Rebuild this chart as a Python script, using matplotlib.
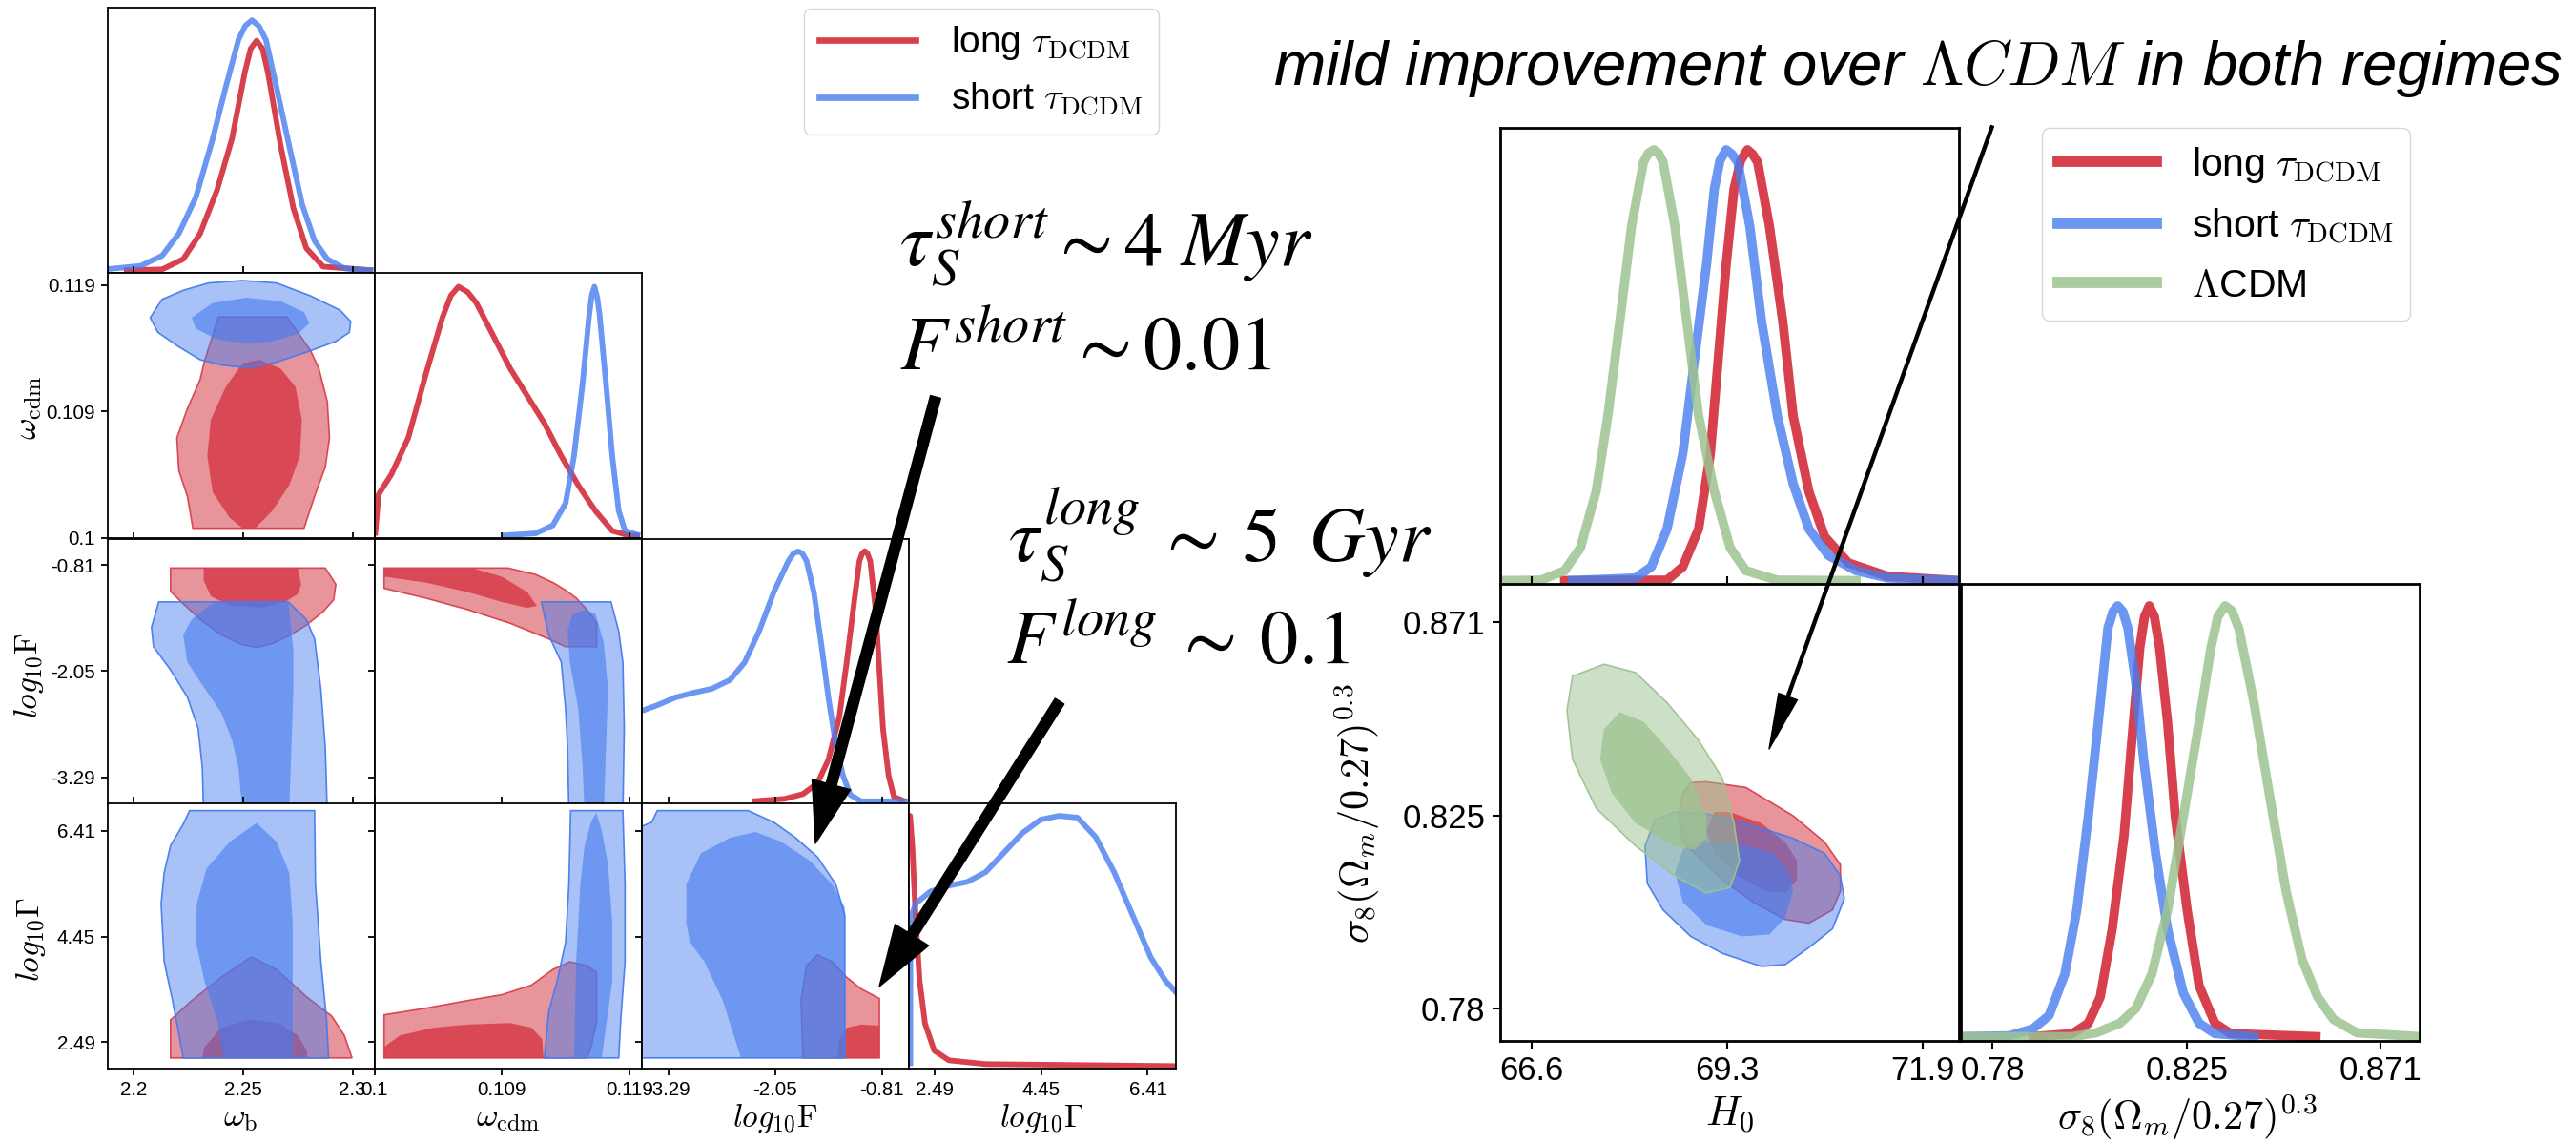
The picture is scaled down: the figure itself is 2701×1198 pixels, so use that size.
import numpy as np
import matplotlib
matplotlib.use("Agg")
import matplotlib.pyplot as plt
from matplotlib.colors import to_rgba
from matplotlib.lines import Line2D
from matplotlib import font_manager as fm

# ============================ DATA ============================
# --- left triangle: parameter ranges, ticks, labels
wb_lim = (2.188, 2.31)
wb_ticks = [2.2, 2.25, 2.3]
wb_labels = ["2.2", "2.25", "2.3"]
wcdm_lim = (0.1, 0.1199)
wcdm_ticks = [0.1, 0.1095, 0.119]
wcdm_labels = ["0.1", "0.109", "0.119"]
logF_lim = (-3.6, -0.5)
logF_ticks = [-3.29, -2.05, -0.81]
logF_labels = ["-3.29", "-2.05", "-0.81"]
logG_lim = (2.0, 6.92)
logG_ticks = [2.49, 4.45, 6.41]
logG_labels = ["2.49", "4.45", "6.41"]

# --- 1D posteriors (left triangle)
wb_red_x = [2.1956, 2.2131, 2.2227, 2.2304, 2.2382, 2.245, 2.2508, 2.2535, 2.2562, 2.2589, 2.2614, 2.2672, 2.273, 2.2789, 2.2866, 2.3095]
wb_red_y = [0.0, 0.004, 0.045, 0.147, 0.322, 0.527, 0.79, 0.886, 0.918, 0.886, 0.79, 0.498, 0.249, 0.089, 0.015, 0.0]
wb_blue_x = [2.188, 2.2033, 2.2131, 2.2207, 2.2285, 2.2362, 2.2421, 2.2479, 2.251, 2.2541, 2.2573, 2.2605, 2.2653, 2.2711, 2.277, 2.2827, 2.2885, 2.2963, 2.3095]
wb_blue_y = [0.005, 0.018, 0.059, 0.147, 0.293, 0.527, 0.732, 0.921, 0.977, 1.0, 0.976, 0.921, 0.732, 0.498, 0.264, 0.118, 0.045, 0.008, 0.0]

wcdm_red_x = [0.10006, 0.10032, 0.10127, 0.10253, 0.1038, 0.10507, 0.1057, 0.10627, 0.10696, 0.1076, 0.10887, 0.11013, 0.1114, 0.11267, 0.11393, 0.1152, 0.11647, 0.11773, 0.119, 0.1198]
wcdm_red_y = [0.0, 0.165, 0.245, 0.391, 0.638, 0.871, 0.959, 0.995, 0.973, 0.93, 0.798, 0.667, 0.558, 0.449, 0.318, 0.201, 0.099, 0.019, 0.0, 0.0]
wcdm_blue_x = [0.1095, 0.11203, 0.1133, 0.11425, 0.11488, 0.11552, 0.11599, 0.1162, 0.1164, 0.1166, 0.11678, 0.11726, 0.11773, 0.11821, 0.11868, 0.1198]
wcdm_blue_y = [0.0, 0.009, 0.041, 0.129, 0.318, 0.609, 0.871, 0.96, 0.995, 0.955, 0.886, 0.609, 0.318, 0.099, 0.019, 0.0]

logF_red_x = [-2.317, -1.936, -1.724, -1.555, -1.429, -1.302, -1.217, -1.133, -1.069, -1.038, -1.006, -0.975, -0.943, -0.879, -0.837, -0.795, -0.731, -0.668, -0.541]
logF_red_y = [0.0, 0.01, 0.029, 0.073, 0.166, 0.337, 0.555, 0.789, 0.96, 0.99, 1.0, 0.99, 0.96, 0.758, 0.524, 0.29, 0.104, 0.018, 0.0]
logF_blue_x = [-3.6, -3.416, -3.205, -2.994, -2.782, -2.571, -2.402, -2.233, -2.063, -1.894, -1.836, -1.779, -1.73, -1.682, -1.598, -1.513, -1.429, -1.344, -1.26, -1.175, -1.048, -0.5]
logF_blue_y = [0.361, 0.384, 0.415, 0.434, 0.45, 0.485, 0.555, 0.68, 0.836, 0.96, 0.99, 0.999, 0.99, 0.96, 0.836, 0.633, 0.415, 0.228, 0.104, 0.026, 0.0, 0.0]

logG_red_x = [1.998, 2.03, 2.071, 2.138, 2.206, 2.306, 2.476, 2.746, 3.423, 6.95]
logG_red_y = [1.0, 1.0, 0.884, 0.574, 0.341, 0.17, 0.062, 0.023, 0.008, 0.0]
logG_blue_x = [2.036, 2.036, 2.138, 2.409, 2.746, 3.085, 3.423, 3.76, 4.098, 4.437, 4.774, 5.114, 5.451, 5.789, 6.128, 6.465, 6.736, 6.95]
logG_blue_y = [0.0, 0.59, 0.651, 0.698, 0.721, 0.736, 0.775, 0.853, 0.931, 0.985, 1.0, 0.993, 0.915, 0.775, 0.604, 0.434, 0.341, 0.29]

# --- 2D credible regions (left triangle), (x, y) vertices
wb_wcdm_red_2s = [(2.2388, 0.11659), (2.2701, 0.11659), (2.2808, 0.11408), (2.2847, 0.11271), (2.2885, 0.11025), (2.2895, 0.10752), (2.2876, 0.10533), (2.2827, 0.10314), (2.2779, 0.10074), (2.2271, 0.10074), (2.2246, 0.10314), (2.2207, 0.10506), (2.2198, 0.10752), (2.2246, 0.10971), (2.2304, 0.11189), (2.2324, 0.11326)]
wb_wcdm_red_1s = [(2.2576, 0.11339), (2.2672, 0.11271), (2.2740, 0.11134), (2.2769, 0.10889), (2.2760, 0.10615), (2.2711, 0.10396), (2.2634, 0.10205), (2.2556, 0.10074), (2.2498, 0.10074), (2.2440, 0.10151), (2.2362, 0.10342), (2.2337, 0.10615), (2.2353, 0.10889), (2.2421, 0.11134), (2.2498, 0.11312)]
wb_wcdm_blue_2s = [(2.2076, 0.11654), (2.2130, 0.11791), (2.2227, 0.11859), (2.2343, 0.11914), (2.2498, 0.11933), (2.2653, 0.11914), (2.2808, 0.11818), (2.2944, 0.11709), (2.2992, 0.11626), (2.2986, 0.11544), (2.2924, 0.11476), (2.2789, 0.11394), (2.2653, 0.11321), (2.2527, 0.11276), (2.2401, 0.11299), (2.2304, 0.11339), (2.2207, 0.11435), (2.2111, 0.11544)]
wb_wcdm_blue_1s = [(2.2266, 0.11654), (2.2362, 0.11764), (2.2517, 0.11804), (2.2672, 0.11777), (2.2779, 0.11695), (2.2804, 0.11613), (2.2750, 0.11531), (2.2634, 0.11476), (2.2517, 0.11457), (2.2382, 0.11490), (2.2285, 0.11572)]

wb_logF_red_2s = [(2.2169, -0.844), (2.2876, -0.844), (2.2924, -1.035), (2.2914, -1.217), (2.2866, -1.354), (2.2789, -1.512), (2.2711, -1.635), (2.2634, -1.726), (2.2566, -1.772), (2.2498, -1.740), (2.2401, -1.626), (2.2304, -1.444), (2.2227, -1.262), (2.2169, -1.117)]
wb_logF_red_1s = [(2.2320, -0.844), (2.2750, -0.844), (2.2766, -1.035), (2.2750, -1.149), (2.2692, -1.240), (2.2595, -1.308), (2.2440, -1.286), (2.2353, -1.172), (2.2320, -0.989)]
wb_logF_blue_2s = [(2.2115, -1.240), (2.2707, -1.240), (2.2789, -1.444), (2.2827, -1.672), (2.2856, -2.263), (2.2876, -2.945), (2.2885, -3.700), (2.2320, -3.700), (2.2314, -3.172), (2.2295, -2.718), (2.2246, -2.354), (2.2169, -2.035), (2.2091, -1.763), (2.2082, -1.536)]
wb_logF_blue_1s = [(2.2382, -1.240), (2.2707, -1.240), (2.2730, -1.808), (2.2730, -2.263), (2.2721, -2.945), (2.2711, -3.700), (2.2498, -3.700), (2.2479, -3.172), (2.2450, -2.854), (2.2401, -2.536), (2.2304, -2.172), (2.2246, -1.945), (2.2227, -1.626), (2.2266, -1.444), (2.2343, -1.286)]

wcdm_logF_red_2s = [(0.10073, -0.844), (0.10997, -0.844), (0.11203, -0.921), (0.11330, -1.013), (0.11425, -1.103), (0.11504, -1.194), (0.11583, -1.330), (0.11656, -1.481), (0.11656, -1.763), (0.11425, -1.763), (0.11299, -1.672), (0.11013, -1.490), (0.10696, -1.330), (0.10380, -1.194), (0.10073, -1.081)]
wcdm_logF_red_1s = [(0.10073, -0.844), (0.10728, -0.844), (0.10950, -0.945), (0.11140, -1.126), (0.11210, -1.286), (0.11140, -1.310), (0.10950, -1.240), (0.10696, -1.126), (0.10380, -1.013), (0.10073, -0.945)]
wcdm_logF_blue_2s = [(0.11245, -1.240), (0.11764, -1.240), (0.11821, -1.581), (0.11852, -1.945), (0.11862, -2.718), (0.11852, -3.700), (0.11450, -3.700), (0.11440, -2.945), (0.11425, -2.490), (0.11393, -1.945), (0.11299, -1.626)]
wcdm_logF_blue_1s = [(0.11472, -1.399), (0.11567, -1.330), (0.11647, -1.376), (0.11710, -1.717), (0.11742, -2.263), (0.11726, -2.945), (0.11710, -3.700), (0.11567, -3.700), (0.11552, -3.172), (0.11520, -2.490), (0.11457, -1.945), (0.11440, -1.581)]

wb_logG_red_2s = [(2.2169, 2.198), (2.2998, 2.198), (2.2963, 2.615), (2.2905, 2.974), (2.2789, 3.335), (2.2653, 3.838), (2.2537, 4.068), (2.2401, 3.693), (2.2266, 3.262), (2.2169, 2.903)]
wb_logG_red_1s = [(2.2314, 2.198), (2.2793, 2.198), (2.2793, 2.327), (2.2750, 2.615), (2.2672, 2.831), (2.2537, 2.918), (2.2401, 2.759), (2.2324, 2.400)]
wb_logG_blue_2s = [(2.2256, 6.785), (2.2827, 6.785), (2.2831, 5.419), (2.2856, 3.981), (2.2882, 2.903), (2.2891, 2.198), (2.2227, 2.198), (2.2178, 3.262), (2.2140, 3.981), (2.2126, 5.059), (2.2140, 5.635), (2.2169, 6.138), (2.2227, 6.534)]
wb_logG_blue_1s = [(2.2562, 6.555), (2.2653, 6.209), (2.2711, 5.635), (2.2727, 4.700), (2.2727, 2.198), (2.2411, 2.198), (2.2382, 2.903), (2.2324, 3.622), (2.2285, 4.342), (2.2289, 5.059), (2.2333, 5.707), (2.2440, 6.209)]

wcdm_logG_red_2s = [(0.10073, 2.198), (0.11583, 2.198), (0.11615, 2.400), (0.11656, 2.866), (0.11656, 3.780), (0.11583, 3.909), (0.11457, 3.981), (0.11330, 3.838), (0.11172, 3.550), (0.10950, 3.370), (0.10696, 3.262), (0.10380, 3.119), (0.10073, 2.997)]
wcdm_logG_red_1s = [(0.10073, 2.198), (0.11260, 2.198), (0.11251, 2.543), (0.11172, 2.759), (0.11013, 2.845), (0.10696, 2.817), (0.10443, 2.759), (0.10190, 2.615), (0.10073, 2.400)]
wcdm_logG_blue_2s = [(0.11463, 6.785), (0.11852, 6.785), (0.11868, 5.419), (0.11868, 3.981), (0.11836, 2.903), (0.11821, 2.198), (0.11267, 2.198), (0.11299, 3.047), (0.11362, 3.622), (0.11425, 4.342), (0.11450, 5.419)]
wcdm_logG_blue_1s = [(0.11653, 6.748), (0.11694, 6.426), (0.11742, 5.778), (0.11773, 4.700), (0.11773, 3.622), (0.11694, 2.198), (0.11488, 2.198), (0.11494, 2.903), (0.11504, 3.981), (0.11520, 4.700), (0.11535, 5.419), (0.11567, 6.138), (0.11615, 6.569)]

logF_logG_red_2s = [(-1.724, 2.198), (-1.746, 3.262), (-1.682, 3.909), (-1.555, 4.110), (-1.386, 3.981), (-1.217, 3.693), (-1.048, 3.478), (-0.837, 3.299), (-0.837, 2.198)]
logF_logG_red_1s = [(-1.323, 2.198), (-1.302, 2.543), (-1.217, 2.759), (-1.048, 2.817), (-0.837, 2.796), (-0.837, 2.198)]
logF_logG_blue_2s = [(-3.70, 6.426), (-3.48, 6.569), (-3.416, 6.785), (-2.36, 6.785), (-2.063, 6.569), (-1.809, 6.281), (-1.555, 5.923), (-1.344, 5.419), (-1.238, 4.843), (-1.238, 2.198), (-3.70, 2.198)]
logF_logG_blue_1s = [(-3.078, 4.700), (-3.078, 5.419), (-2.909, 5.994), (-2.571, 6.281), (-2.275, 6.389), (-1.978, 6.209), (-1.640, 5.850), (-1.386, 5.419), (-1.238, 4.988), (-1.238, 2.198), (-2.444, 2.198), (-2.655, 3.262), (-2.867, 3.981), (-3.036, 4.342)]

# --- right triangle: H0 and S8 = sigma8 (Om/0.27)^0.3
H0_lim = (66.17, 72.38)
H0_ticks = [66.6, 69.25, 71.9]
H0_labels = ["66.6", "69.3", "71.9"]
S8_lim = (0.7724, 0.8800)
S8_ticks = [0.78, 0.8255, 0.871]
S8_labels = ["0.78", "0.825", "0.871"]

H0_red_x = [67.047, 68.434, 68.647, 68.861, 69.02, 69.127, 69.234, 69.34, 69.43, 69.522, 69.59, 69.66, 69.82, 70.0, 70.14, 70.353, 70.567, 70.887, 71.42, 72.38]
H0_red_y = [0.0, 0.001, 0.032, 0.12, 0.295, 0.515, 0.734, 0.909, 0.975, 1.0, 0.99, 0.971, 0.822, 0.602, 0.383, 0.207, 0.102, 0.041, 0.01, 0.0]
H0_blue_x = [67.154, 68.007, 68.221, 68.434, 68.647, 68.807, 68.968, 69.074, 69.15, 69.234, 69.31, 69.393, 69.554, 69.713, 69.926, 70.14, 70.353, 70.621, 70.993, 71.42, 72.38]
H0_blue_y = [0.0, 0.006, 0.032, 0.12, 0.295, 0.515, 0.734, 0.909, 0.975, 1.0, 0.99, 0.971, 0.822, 0.602, 0.383, 0.225, 0.12, 0.058, 0.023, 0.006, 0.0]
H0_lcdm_x = [66.17, 66.727, 67.047, 67.261, 67.474, 67.633, 67.794, 67.953, 68.114, 68.18, 68.253, 68.32, 68.38, 68.541, 68.70, 68.861, 69.074, 69.288, 69.5, 69.926, 70.993]
H0_lcdm_y = [0.0, 0.001, 0.023, 0.076, 0.207, 0.383, 0.602, 0.822, 0.971, 0.992, 1.0, 0.992, 0.971, 0.822, 0.602, 0.383, 0.207, 0.076, 0.023, 0.001, 0.0]

S8_red_x = [0.7894, 0.7987, 0.8024, 0.8052, 0.808, 0.8108, 0.8126, 0.8145, 0.8156, 0.8167, 0.8179, 0.8191, 0.821, 0.8228, 0.8256, 0.8284, 0.8321, 0.8358, 0.8558]
S8_red_y = [0.0, 0.007, 0.031, 0.092, 0.249, 0.468, 0.686, 0.904, 0.975, 1.0, 0.975, 0.904, 0.73, 0.511, 0.293, 0.118, 0.031, 0.007, 0.0]
S8_blue_x = [0.7728, 0.7839, 0.7894, 0.7932, 0.7969, 0.7997, 0.8024, 0.8052, 0.807, 0.8082, 0.8093, 0.8105, 0.8117, 0.8136, 0.8154, 0.8182, 0.821, 0.8247, 0.8284, 0.8321, 0.8413]
S8_blue_y = [0.0, 0.002, 0.018, 0.049, 0.145, 0.293, 0.511, 0.773, 0.948, 0.987, 1.0, 0.987, 0.948, 0.817, 0.642, 0.424, 0.249, 0.101, 0.031, 0.007, 0.0]
S8_lcdm_x = [0.7728, 0.7987, 0.8043, 0.8098, 0.8136, 0.8173, 0.821, 0.8247, 0.8284, 0.8312, 0.8328, 0.8345, 0.8361, 0.8377, 0.8413, 0.845, 0.8488, 0.8525, 0.8562, 0.8599, 0.8654, 0.88]
S8_lcdm_y = [0.0, 0.0, 0.009, 0.031, 0.066, 0.145, 0.293, 0.511, 0.73, 0.904, 0.975, 1.0, 0.988, 0.948, 0.773, 0.555, 0.337, 0.18, 0.092, 0.04, 0.009, 0.0]

H0_S8_lcdm_2s = [(67.581, 0.86116), (67.154, 0.85832), (67.079, 0.85032), (67.154, 0.83878), (67.474, 0.82724), (68.007, 0.81836), (68.541, 0.81126), (68.968, 0.80725), (69.288, 0.80858), (69.415, 0.8148), (69.34, 0.82368), (69.181, 0.83434), (68.861, 0.84322), (68.434, 0.8521), (68.007, 0.8592)]
H0_S8_lcdm_1s = [(67.794, 0.84987), (67.581, 0.84588), (67.527, 0.83878), (67.687, 0.83078), (68.007, 0.82368), (68.541, 0.81836), (68.807, 0.81746), (68.968, 0.82014), (68.968, 0.82546), (68.754, 0.83434), (68.434, 0.84144), (68.114, 0.84766)]
H0_S8_red_2s = [(68.648, 0.83078), (68.754, 0.83328), (68.968, 0.83346), (69.5, 0.83211), (70.14, 0.82546), (70.567, 0.81924), (70.78, 0.81392), (70.78, 0.8077), (70.673, 0.80326), (70.353, 0.80015), (70.033, 0.80103), (69.606, 0.80504), (69.181, 0.81036), (68.861, 0.8157), (68.648, 0.81924), (68.594, 0.82546)]
H0_S8_red_1s = [(69.074, 0.82634), (69.288, 0.82634), (69.713, 0.82368), (70.033, 0.81924), (70.194, 0.8148), (70.194, 0.81036), (70.033, 0.80725), (69.767, 0.8077), (69.393, 0.81126), (69.074, 0.81658), (68.968, 0.8219)]
H0_S8_blue_2s = [(68.541, 0.82634), (68.968, 0.82591), (69.5, 0.82368), (70.14, 0.82014), (70.567, 0.81658), (70.78, 0.81126), (70.834, 0.80592), (70.673, 0.79882), (70.353, 0.79438), (70.033, 0.79039), (69.713, 0.78994), (69.181, 0.79305), (68.754, 0.79704), (68.38, 0.80326), (68.167, 0.80948), (68.135, 0.81836), (68.274, 0.82458)]
H0_S8_blue_1s = [(68.861, 0.81969), (69.5, 0.81836), (69.874, 0.81658), (70.087, 0.81214), (70.14, 0.8077), (70.033, 0.80148), (69.82, 0.79749), (69.447, 0.79704), (68.968, 0.7997), (68.648, 0.80504), (68.541, 0.81214), (68.648, 0.81746)]

series_names = [r"long $\tau_{\rm DCDM}$", r"short $\tau_{\rm DCDM}$", r"$\Lambda$CDM"]

# ============================ STYLE ============================
RED = "#D7414E"
BLUE = "#467CEE"
GREEN = "#9DC391"

W, H, DPI = 2701, 1198, 100
plt.rcParams["mathtext.fontset"] = "cm"
plt.rcParams["font.family"] = ["Liberation Sans", "DejaVu Sans"]
TICKFONT = ["Liberation Sans", "DejaVu Sans"]

fig = plt.figure(figsize=(W / DPI, H / DPI), dpi=DPI)


def add_ax(x, y, w, h):
    return fig.add_axes([x / W, 1 - (y + h) / H, w / W, h / H])


def contour(ax, outer, inner, color, a_out, a_in, z):
    o = np.array(outer)
    i = np.array(inner)
    ax.fill(o[:, 0], o[:, 1], facecolor=to_rgba(color, a_out), edgecolor=to_rgba(color, 0.95), lw=1.2, zorder=z)
    ax.fill(i[:, 0], i[:, 1], facecolor=to_rgba(color, a_in), edgecolor="none", zorder=z + 0.1)


def frame(ax, lw):
    for s in ax.spines.values():
        s.set_linewidth(lw)
        s.set_zorder(10)


# ---------------- left triangle ----------------
LX = [112.5, 392.5, 672.5, 952.5]
LW_ = 280
LY = [8, 286, 564.5, 842]
LH_ = 278

pars = [
    (wb_lim, wb_ticks, wb_labels, r"$\omega_{\rm b}$"),
    (wcdm_lim, wcdm_ticks, wcdm_labels, r"$\omega_{\rm cdm}$"),
    (logF_lim, logF_ticks, logF_labels, r"$log_{10}{\rm F}$"),
    (logG_lim, logG_ticks, logG_labels, r"$log_{10}\Gamma$"),
]
one_d = [
    ((wb_red_x, wb_red_y), (wb_blue_x, wb_blue_y)),
    ((wcdm_red_x, wcdm_red_y), (wcdm_blue_x, wcdm_blue_y)),
    ((logF_red_x, logF_red_y), (logF_blue_x, logF_blue_y)),
    ((logG_red_x, logG_red_y), (logG_blue_x, logG_blue_y)),
]
two_d = {
    (1, 0): (wb_wcdm_red_2s, wb_wcdm_red_1s, wb_wcdm_blue_2s, wb_wcdm_blue_1s),
    (2, 0): (wb_logF_red_2s, wb_logF_red_1s, wb_logF_blue_2s, wb_logF_blue_1s),
    (2, 1): (wcdm_logF_red_2s, wcdm_logF_red_1s, wcdm_logF_blue_2s, wcdm_logF_blue_1s),
    (3, 0): (wb_logG_red_2s, wb_logG_red_1s, wb_logG_blue_2s, wb_logG_blue_1s),
    (3, 1): (wcdm_logG_red_2s, wcdm_logG_red_1s, wcdm_logG_blue_2s, wcdm_logG_blue_1s),
    (3, 2): (logF_logG_red_2s, logF_logG_red_1s, logF_logG_blue_2s, logF_logG_blue_1s),
}

TFS = 14.8
for r in range(4):
    for c in range(r + 1):
        ax = add_ax(LX[c], LY[r], LW_, LH_)
        frame(ax, 1.3)
        xlim, xt, xl, xname = pars[c]
        ax.set_xlim(*xlim)
        ax.set_xticks(xt)
        ax.set_xticklabels(xl if r == 3 else [], fontsize=TFS, family=TICKFONT)
        if r == c:
            (rx, ry), (bx, by) = one_d[c]
            ax.plot(rx, ry, color=RED, lw=4.2, solid_capstyle="butt", solid_joinstyle="round", zorder=3)
            ax.plot(bx, by, color=BLUE, alpha=0.8, lw=4.2, solid_capstyle="butt", solid_joinstyle="round", zorder=4)
            ax.set_ylim(-0.01, 1.05)
            ax.set_yticks([])
            ax.tick_params(axis="x", direction="out", length=5, width=1.3, pad=4)
        else:
            ylim, yt, yl, yname = pars[r]
            ax.set_ylim(*ylim)
            ax.set_yticks(yt)
            ax.set_yticklabels(yl if c == 0 else [], fontsize=TFS, family=TICKFONT)
            r2, r1, b2, b1 = two_d[(r, c)]
            contour(ax, r2, r1, RED, 0.56, 0.9, 2)
            contour(ax, b2, b1, BLUE, 0.47, 0.6, 3)
            ax.tick_params(direction="out", length=5, width=1.3, pad=4, top=True, right=True)

# axis names (left triangle)
fig.text(29 / W, 1 - 427 / H, pars[1][3], rotation=90, ha="center", va="center", fontsize=25)
fig.text(30 / W, 1 - 708 / H, pars[2][3], rotation=90, ha="center", va="center", fontsize=24)
fig.text(33 / W, 1 - 985 / H, pars[3][3], rotation=90, ha="center", va="center", fontsize=24)
for c in range(4):
    fig.text((LX[c] + LW_ / 2) / W, 1 - 1172 / H, pars[c][3], ha="center", va="center", fontsize=25 if c < 2 else 24)

# ---------------- right triangle ----------------
RX = [1572.6, 2055.5]
RW_ = 481
RY = [134.4, 612.4]
RH_ = 478.6
RFS = 25

axA = add_ax(RX[0], RY[0], RW_, RH_)
axB = add_ax(RX[0], RY[1], RW_, RH_)
axC = add_ax(RX[1], RY[1], RW_, RH_)
for ax in (axA, axB, axC):
    frame(ax, 2.0)

lines_H0 = [(H0_red_x, H0_red_y, RED, 1.0), (H0_blue_x, H0_blue_y, BLUE, 0.8), (H0_lcdm_x, H0_lcdm_y, GREEN, 0.85)]
for i, (x, y, col, a) in enumerate(lines_H0):
    axA.plot(x, y, color=col, alpha=a, lw=7, solid_joinstyle="round", zorder=3 + i)
axA.set_xlim(*H0_lim)
axA.set_ylim(-0.01, 1.05)
axA.set_xticks(H0_ticks)
axA.set_xticklabels([])
axA.set_yticks([])
axA.tick_params(axis="x", direction="out", length=6, width=1.5)

contour(axB, H0_S8_red_2s, H0_S8_red_1s, RED, 0.56, 0.85, 2)
contour(axB, H0_S8_blue_2s, H0_S8_blue_1s, BLUE, 0.47, 0.6, 3)
contour(axB, H0_S8_lcdm_2s, H0_S8_lcdm_1s, GREEN, 0.5, 0.78, 4)
axB.set_xlim(*H0_lim)
axB.set_ylim(*S8_lim)
axB.set_xticks(H0_ticks)
axB.set_xticklabels(H0_labels, fontsize=RFS, family=TICKFONT)
axB.set_yticks(S8_ticks)
axB.set_yticklabels(S8_labels, fontsize=RFS, family=TICKFONT)
axB.tick_params(direction="out", length=6, width=1.5, pad=5, top=True, right=True)

lines_S8 = [(S8_red_x, S8_red_y, RED, 1.0), (S8_blue_x, S8_blue_y, BLUE, 0.8), (S8_lcdm_x, S8_lcdm_y, GREEN, 0.85)]
for i, (x, y, col, a) in enumerate(lines_S8):
    axC.plot(x, y, color=col, alpha=a, lw=7, solid_joinstyle="round", zorder=3 + i)
axC.set_xlim(*S8_lim)
axC.set_ylim(-0.01, 1.05)
axC.set_xticks(S8_ticks)
axC.set_xticklabels(S8_labels, fontsize=RFS, family=TICKFONT)
axC.set_yticks([])
axC.tick_params(axis="x", direction="out", length=6, width=1.5, pad=5)

S8_name = r"$\sigma_8(\Omega_m/0.27)^{0.3}$"
fig.text(1814 / W, 1 - 1169 / H, r"$H_0$", ha="center", va="center", fontsize=31)
fig.text(2293 / W, 1 - 1171 / H, S8_name, ha="center", va="center", fontsize=30.5)
fig.text(1423 / W, 1 - 853 / H, S8_name, rotation=90, ha="center", va="center", fontsize=30.5)

# ---------------- legends ----------------
h1 = [Line2D([], [], color=RED, lw=4.8), Line2D([], [], color=BLUE, alpha=0.8, lw=4.8)]
fig.legend(h1, series_names[:2], loc="upper left", bbox_to_anchor=(842.5 / W, 1 - 9 / H),
           fontsize=28, frameon=True, fancybox=True, edgecolor="#D8D8D8", framealpha=1,
           handlelength=2.6, handletextpad=0.95, borderpad=0.42, labelspacing=0.5, borderaxespad=0)
h2 = [Line2D([], [], color=RED, lw=8.5), Line2D([], [], color=BLUE, alpha=0.8, lw=8.5),
      Line2D([], [], color=GREEN, alpha=0.85, lw=8.5)]
fig.legend(h2, series_names, loc="upper left", bbox_to_anchor=(2141 / W, 1 - 134.4 / H),
           fontsize=29.5, frameon=True, fancybox=True, edgecolor="#D8D8D8", framealpha=1,
           handlelength=2.5, handletextpad=0.9, borderpad=0.42, labelspacing=0.55, borderaxespad=0)

# ---------------- annotations ----------------
fig.text(2687 / W, 1 - 89 / H, r"mild improvement over $\Lambda CDM$ in both regimes",
         ha="right", va="baseline", fontsize=47, fontstyle="italic")
BIG = 58
fig.text(943 / W, 1 - 278 / H, r"$\tau_S^{short}\sim 4\ Myr$", ha="left", va="baseline", fontsize=BIG, math_fontfamily="stix")
fig.text(943 / W, 1 - 387 / H, r"$F^{short}\sim 0.01$", ha="left", va="baseline", fontsize=BIG, math_fontfamily="stix")
fig.text(1057 / W, 1 - 588 / H, r"$\tau_S^{long}\:\sim\:5\ \,Gyr$", ha="left", va="baseline", fontsize=BIG, math_fontfamily="stix")
fig.text(1055 / W, 1 - 695 / H, r"$F^{long}\:\sim\:0.1$", ha="left", va="baseline", fontsize=BIG, math_fontfamily="stix")

ov = fig.add_axes([0, 0, 1, 1], zorder=50)
ov.set_xlim(0, W)
ov.set_ylim(H, 0)
ov.axis("off")
ov.patch.set_alpha(0)
thick = dict(facecolor="black", edgecolor="black", width=8, headwidth=30, headlength=46, shrink=0)
thin = dict(facecolor="black", edgecolor="black", width=2.2, headwidth=15, headlength=42, shrink=0)
ov.annotate("", xy=(855, 884), xytext=(981, 416), arrowprops=thick)
ov.annotate("", xy=(922, 1034), xytext=(1111, 735), arrowprops=thick)
ov.annotate("", xy=(1855, 785), xytext=(2089, 132), arrowprops=thin)

fig.savefig("out.png", dpi=DPI)
